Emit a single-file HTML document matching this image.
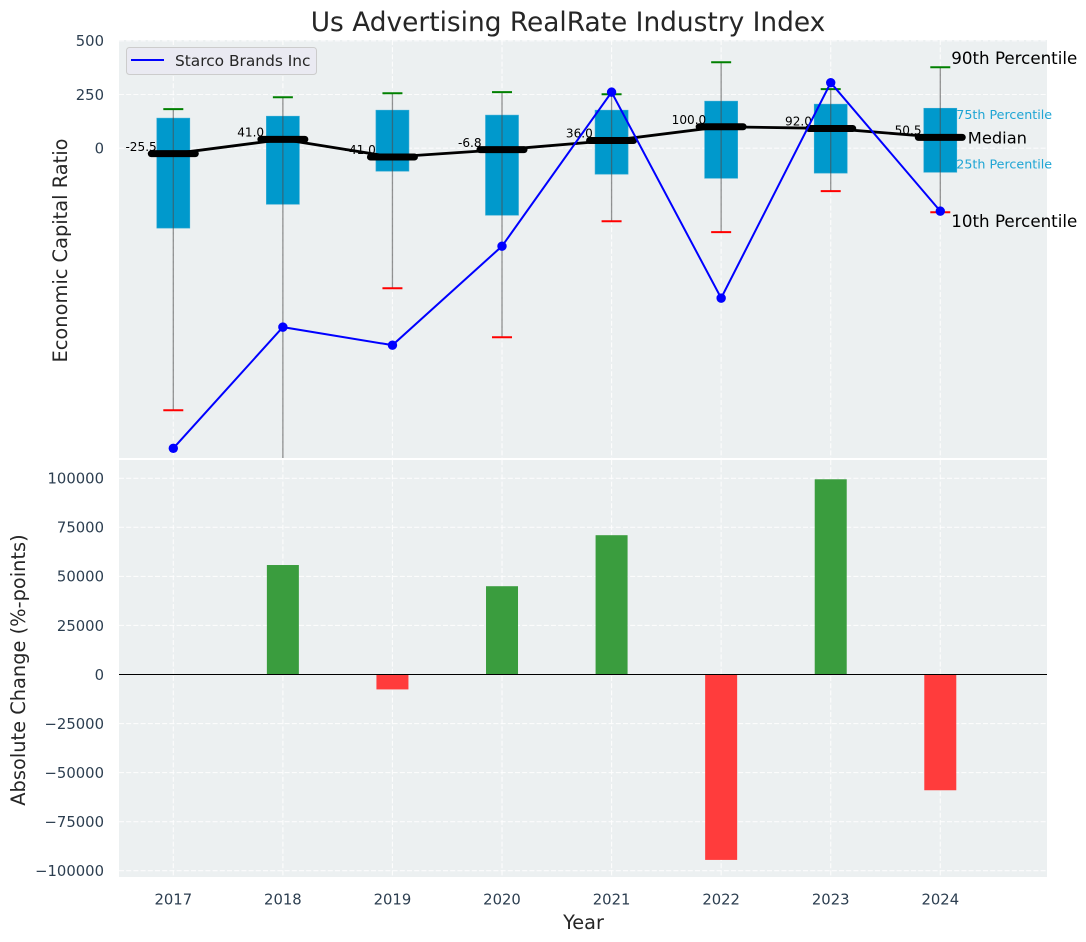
<!DOCTYPE html>
<html lang="en">
<head>
<meta charset="utf-8">
<title>Us Advertising RealRate Industry Index</title>
<style>
html,body{margin:0;padding:0;background:#fff;width:1086px;height:942px;overflow:hidden}
svg{display:block}
text{font-family:"DejaVu Sans","Liberation Sans",sans-serif}
</style>
</head>
<body>
<svg id="chart" xmlns="http://www.w3.org/2000/svg" width="1086" height="942" viewBox="0 0 1086 942">
<defs>
<clipPath id="clip-top"><rect x="119" y="40" width="928" height="418"/></clipPath>
<clipPath id="clip-bottom"><rect x="119" y="460" width="928" height="417"/></clipPath>
</defs>
<rect x="119" y="40" width="928" height="418" fill="#ecf0f1"/>
<rect x="119" y="460" width="928" height="417" fill="#ecf0f1"/>
<g id="top-layer" clip-path="url(#clip-top)"></g>
<g id="bottom-layer" clip-path="url(#clip-bottom)"></g>
<g id="labels"></g>
<text x="568" y="31" font-size="26.4" fill="#262626" text-anchor="middle">Us Advertising RealRate Industry Index</text>
<text x="583.5" y="929" font-size="19.3" fill="#262626" text-anchor="middle">Year</text>
<text transform="translate(67,250.5) rotate(-90)" font-size="19.4" fill="#262626" text-anchor="middle">Economic Capital Ratio</text>
<text transform="translate(25,670) rotate(-90)" font-size="19.4" fill="#262626" text-anchor="middle">Absolute Change (%-points)</text>
<g>
<rect x="126.500" y="47.500" width="190" height="27" rx="3" fill="#eaeaf2" stroke="#cccccc"/>
<line x1="131" y1="60" x2="164" y2="60" stroke="#0000ff" stroke-width="2"/>
<text x="175" y="66" font-size="15.4" fill="#262626">Starco Brands Inc</text>
</g>
</svg>
<script>
const years = [2017, 2018, 2019, 2020, 2021, 2022, 2023, 2024];
const p90 = [182, 237, 256, 261, 251, 400, 275, 377];
const p75 = [140, 149, 177, 154, 177, 219, 205, 186];
const medians = [-25.5, 41.0, -41.0, -6.8, 36.0, 100.0, 92.0, 50.5];
const p25 = [-372, -261, -107, -312, -121, -140, -116, -112];
const p10 = [-1220, -1700, -652, -880, -340, -391, -200, -298];
const company = [-1397, -833, -917, -456, 261, -698, 305, -293];
const changes = [0, 55800, -7600, 45000, 71000, -94500, 99500, -59000];
const topTicks = [0, 250, 500];
const bottomTicks = [-100000, -75000, -50000, -25000, 0, 25000, 50000, 75000, 100000];

const NS = 'http://www.w3.org/2000/svg';
const topLayer = document.getElementById('top-layer');
const bottomLayer = document.getElementById('bottom-layer');
const labels = document.getElementById('labels');
const svgRoot = document.getElementById('chart');

function xPos(year) { return 173.3 + (year - 2017) * 109.57; }
function yTop(v) { return 148.2 - v * 0.2148; }
function yBottom(v) { return 674.5 - v * 0.001962; }
function mk(parent, tag, attrs, content) {
  const el = document.createElementNS(NS, tag);
  for (const k in attrs) el.setAttribute(k, attrs[k]);
  if (content !== undefined) el.textContent = content;
  parent.appendChild(el);
  return el;
}
function fmtTick(v) { return v < 0 ? '\u2212' + Math.abs(v) : String(v); }
const gridStyle = { stroke: '#ffffff', 'stroke-width': 1.1, 'stroke-dasharray': '5 2.2', opacity: 0.85 };

/* grid */
years.forEach(function (yr) {
  const a = mk(topLayer, 'line', Object.assign({ x1: xPos(yr), x2: xPos(yr), y1: 40, y2: 458 }, gridStyle));
  
  
  const b = mk(bottomLayer, 'line', Object.assign({ x1: xPos(yr), x2: xPos(yr), y1: 460, y2: 877 }, gridStyle));
  
  
  const t = mk(labels, 'text', { x: xPos(yr), y: 904.6, 'font-size': 14.8, fill: '#2c3e50', 'text-anchor': 'middle' }, String(yr));
  
  
});
topTicks.forEach(function (v) {
  const g = mk(topLayer, 'line', Object.assign({ x1: 119, x2: 1047, y1: yTop(v), y2: yTop(v) }, gridStyle));
  
  
  const t = mk(labels, 'text', { x: 104, y: yTop(v) + 5.3, 'font-size': 14.8, fill: '#2c3e50', 'text-anchor': 'end' }, fmtTick(v));
  
  
});
bottomTicks.forEach(function (v) {
  const g = mk(bottomLayer, 'line', Object.assign({ x1: 119, x2: 1047, y1: yBottom(v), y2: yBottom(v) }, gridStyle));
  
  
  const t = mk(labels, 'text', { x: 104, y: yBottom(v) + 5.3, 'font-size': 14.8, fill: '#2c3e50', 'text-anchor': 'end' }, fmtTick(v));
  
  
});

/* percentile boxes */
years.forEach(function (yr, i) {
  const cx = xPos(yr);
  const box = mk(topLayer, 'rect', { x: cx - 16.5, y: yTop(p75[i]), width: 33, height: yTop(p25[i]) - yTop(p75[i]), fill: '#0099cc', stroke: '#33aad4', 'stroke-width': 0.6 });
  
  
  const w = mk(topLayer, 'line', { x1: cx, x2: cx, y1: yTop(p90[i]), y2: yTop(p10[i]), stroke: '#4d4d4d', 'stroke-width': 1.3, 'stroke-opacity': 0.6 });
  
  
  const c1 = mk(topLayer, 'line', { x1: cx - 10, x2: cx + 10, y1: yTop(p90[i]), y2: yTop(p90[i]), stroke: '#008000', 'stroke-width': 2 });
  
  
  const c2 = mk(topLayer, 'line', { x1: cx - 10, x2: cx + 10, y1: yTop(p10[i]), y2: yTop(p10[i]), stroke: '#ff0000', 'stroke-width': 2 });
  
  
  const lab = mk(topLayer, 'text', { x: cx - 32.2, y: yTop(medians[i]) - 2.8, 'font-size': 12.1, fill: '#000000', 'text-anchor': 'middle' }, medians[i].toFixed(1));
  
  
});

/* median connecting line and thick median bars */
const medianLine = mk(topLayer, 'polyline', {
  points: years.map(function (yr, i) { return xPos(yr) + ',' + yTop(medians[i]); }).join(' '),
  fill: 'none', stroke: '#000000', 'stroke-width': 2.8
});


years.forEach(function (yr, i) {
  const cx = xPos(yr);
  const m = mk(topLayer, 'line', { x1: cx - 22, x2: cx + 22, y1: yTop(medians[i]), y2: yTop(medians[i]), stroke: '#000000', 'stroke-width': 7, 'stroke-linecap': 'round' });
  
  
});

/* company line */
const companyLine = mk(topLayer, 'polyline', {
  points: years.map(function (yr, i) { return xPos(yr) + ',' + yTop(company[i]); }).join(' '),
  fill: 'none', stroke: '#0000ff', 'stroke-width': 2
});


years.forEach(function (yr, i) {
  const pt = mk(topLayer, 'circle', { cx: xPos(yr), cy: yTop(company[i]), r: 4.7, fill: '#0000ff' });
  
  
});

/* change bars */
changes.forEach(function (v, i) {
  const cx = xPos(years[i]);
  const y0 = yBottom(0), y1 = yBottom(v);
  const bar = mk(bottomLayer, 'rect', { x: cx - 16, y: Math.min(y0, y1), width: 32, height: Math.abs(y1 - y0), fill: v >= 0 ? '#3a9d3e' : '#ff3c3c' });
  
  
});
const zero = mk(bottomLayer, 'line', { x1: 119, x2: 1047, y1: yBottom(0), y2: yBottom(0), stroke: '#000000', 'stroke-width': 1.1 });



/* percentile annotations next to the final year */
const last = years.length - 1;
const ax = xPos(years[last]);
const a90 = mk(svgRoot, 'text', { x: ax + 11, y: yTop(p90[last]) - 3, 'font-size': 16.7, fill: '#000000' }, '90th Percentile');


const a75 = mk(svgRoot, 'text', { x: ax + 16, y: yTop(p75[last]) + 11, 'font-size': 12.7, fill: '#1ea5d4' }, '75th Percentile');


const a50 = mk(svgRoot, 'text', { x: ax + 27.5, y: yTop(medians[last]) + 6, 'font-size': 16.3, fill: '#000000' }, 'Median');


const a25 = mk(svgRoot, 'text', { x: ax + 16, y: yTop(p25[last]) - 4, 'font-size': 12.7, fill: '#1ea5d4' }, '25th Percentile');


const a10 = mk(svgRoot, 'text', { x: ax + 11, y: yTop(p10[last]) + 15, 'font-size': 16.7, fill: '#000000' }, '10th Percentile');


</script>
</body>
</html>
